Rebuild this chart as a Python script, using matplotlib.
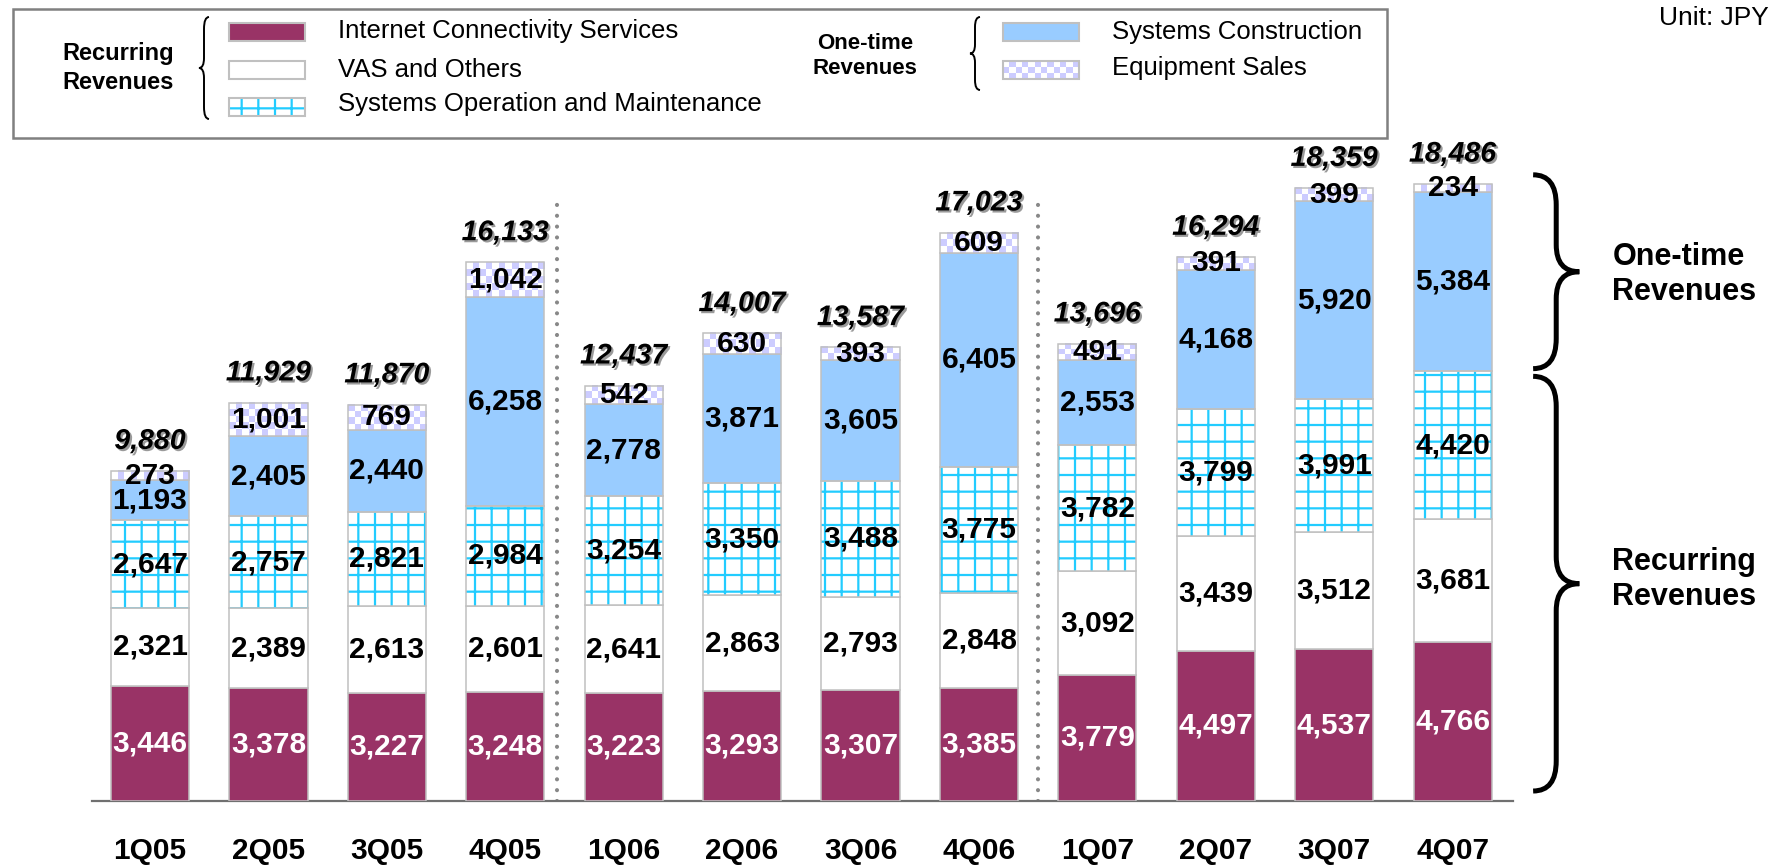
import numpy as np
import matplotlib
matplotlib.use('Agg')
import matplotlib.pyplot as plt
from matplotlib.patches import Rectangle, PathPatch
from matplotlib.path import Path
from matplotlib.colors import ListedColormap
import matplotlib.patheffects as pe

plt.rcParams['font.family'] = ['Liberation Sans', 'DejaVu Sans']
plt.rcParams['hatch.linewidth'] = 1.6

# ---------------- data ----------------
categories = ['1Q05', '2Q05', '3Q05', '4Q05', '1Q06', '2Q06', '3Q06', '4Q06',
              '1Q07', '2Q07', '3Q07', '4Q07']
internet_connectivity = [3446, 3378, 3227, 3248, 3223, 3293, 3307, 3385, 3779, 4497, 4537, 4766]
vas_others = [2321, 2389, 2613, 2601, 2641, 2863, 2793, 2848, 3092, 3439, 3512, 3681]
sys_operation = [2647, 2757, 2821, 2984, 3254, 3350, 3488, 3775, 3782, 3799, 3991, 4420]
sys_construction = [1193, 2405, 2440, 6258, 2778, 3871, 3605, 6405, 2553, 4168, 5920, 5384]
equipment_sales = [273, 1001, 769, 1042, 542, 630, 393, 609, 491, 391, 399, 234]
totals = [9880, 11929, 11870, 16133, 12437, 14007, 13587, 17023, 13696, 16294, 18359, 18486]
year_separators = [3.44, 7.5]

series_names = ['Internet Connectivity Services', 'VAS and Others',
                'Systems Operation and Maintenance', 'Systems Construction', 'Equipment Sales']

# ---------------- style ----------------
PURPLE = '#993366'
BLUE = '#99CCFF'
CYAN = '#22CCFF'
LAV = '#CCCCFF'
EDGE = '#C0C0C0'
checker_cmap = ListedColormap(['white', LAV])

W, H, DPI = 1771, 865, 100
fig = plt.figure(figsize=(W / DPI, H / DPI), dpi=DPI)
base_px = 800.7
ax = fig.add_axes([92 / W, (H - base_px) / H, 1421 / W, 667.4 / H])

x = np.arange(len(categories))
bw = 0.66
YMAX = 20000
px_per_unit_y = 667.4 / YMAX
px_per_unit_x = 1421 / 12.0
CHK = 6.5  # checker square in pixels


def checker(ax_, xc, y0, y1, w, zorder=2):
    hpx = (y1 - y0) * px_per_unit_y
    wpx = w * px_per_unit_x
    nr = max(1, int(round(hpx / CHK)))
    nc = max(1, int(round(wpx / CHK)))
    arr = (np.add.outer(np.arange(nr), np.arange(nc)) % 2)
    ax_.imshow(arr, cmap=checker_cmap, vmin=0, vmax=1, interpolation='nearest',
               extent=(xc - w / 2, xc + w / 2, y0, y1), origin='lower',
               aspect='auto', zorder=zorder)


bottom = np.zeros(len(categories))
data = [internet_connectivity, vas_others, sys_operation, sys_construction, equipment_sales]
for k, vals in enumerate(data):
    vals = np.array(vals, dtype=float)
    if k == 0:
        ax.bar(x, vals, bw, bottom=bottom, color=PURPLE, edgecolor=EDGE, linewidth=1.1, zorder=3)
    elif k == 1:
        ax.bar(x, vals, bw, bottom=bottom, color='white', edgecolor=EDGE, linewidth=1.1, zorder=3)
    elif k == 2:
        ax.bar(x, vals, bw, bottom=bottom, color='white', edgecolor=CYAN, hatch='+', linewidth=0, zorder=3)
        ax.bar(x, vals, bw, bottom=bottom, fill=False, edgecolor=EDGE, linewidth=1.1, zorder=3.5)
    elif k == 3:
        ax.bar(x, vals, bw, bottom=bottom, color=BLUE, edgecolor=EDGE, linewidth=1.1, zorder=3)
    else:
        for xi, b, v in zip(x, bottom, vals):
            checker(ax, xi, b, b + v, bw, zorder=3)
        ax.bar(x, vals, bw, bottom=bottom, fill=False, edgecolor=EDGE, linewidth=1.1, zorder=3.5)
    for xi, b, v in zip(x, bottom, vals):
        ax.text(xi, b + v / 2, f'{int(v):,}', ha='center', va='center', fontsize=21.5,
                fontweight='bold', color='white' if k == 0 else 'black', zorder=6)
    bottom = bottom + vals

for xi, t in zip(x, totals):
    ax.annotate(f'{t:,}', (xi, t), xytext=(0, 21), textcoords='offset points',
                ha='center', va='center', fontsize=20.5, fontweight='bold', fontstyle='italic',
                zorder=6, annotation_clip=False,
                path_effects=[pe.withSimplePatchShadow(offset=(1.5, -1.5),
                                                       shadow_rgbFace='#9a9a9a', alpha=1.0)])

for sx in year_separators:
    ax.axvline(sx, ymin=0, ymax=(base_px - 198) / 667.4, color='#888888', linewidth=3,
               linestyle=(0, (0.001, 2.6)), dash_capstyle='round', zorder=1)

ax.set_xlim(-0.49, 11.51)
ax.set_ylim(0, YMAX)
ax.set_xticks(x)
ax.set_xticklabels(categories, fontsize=21.5, fontweight='bold')
ax.tick_params(axis='x', length=0, pad=26)
ax.set_yticks([])
for s in ['top', 'right', 'left']:
    ax.spines[s].set_visible(False)
ax.spines['bottom'].set_color('#707070')
ax.spines['bottom'].set_linewidth(1.6)
ax.set_facecolor('none')


def brace_path(x_end, x_tip, y_a, y_b, ry_end, ry_mid, frac=0.5):
    """Curly brace with ends at x_end and tip at x_tip, spanning y_a..y_b."""
    xm = x_end + (x_tip - x_end) * frac
    ymid = (y_a + y_b) / 2
    s = 1 if y_b > y_a else -1
    verts = [(x_end, y_b),
             (xm, y_b), (xm, y_b - s * ry_end),
             (xm, ymid + s * ry_mid),
             (xm, ymid), (x_tip, ymid),
             (xm, ymid), (xm, ymid - s * ry_mid),
             (xm, y_a + s * ry_end),
             (xm, y_a), (x_end, y_a)]
    codes = [Path.MOVETO, Path.CURVE3, Path.CURVE3, Path.LINETO, Path.CURVE3, Path.CURVE3,
             Path.CURVE3, Path.CURVE3, Path.LINETO, Path.CURVE3, Path.CURVE3]
    return Path(verts, codes)


# right-hand braces tied to the last bar
recurring_last = internet_connectivity[-1] + vas_others[-1] + sys_operation[-1]
total_last = totals[-1]
bx0, bx1 = 11.68, 12.07
ry = 30 / px_per_unit_y
p1 = brace_path(bx0, bx1, recurring_last + 80, total_last + 270, ry, ry * 0.9)
p2 = brace_path(bx0, bx1, 290, recurring_last - 150, ry, ry * 0.9)
for p in (p1, p2):
    ax.add_patch(PathPatch(p, facecolor='none', edgecolor='black', linewidth=3.6,
                           clip_on=False, zorder=5, capstyle='butt'))
ax.text(12.35, (recurring_last + total_last) / 2 + 100, 'One-time\nRevenues', ha='left', va='center',
        fontsize=22, fontweight='bold', linespacing=1.2, clip_on=False)
ax.text(12.35, recurring_last / 2 + 200, 'Recurring\nRevenues', ha='left', va='center',
        fontsize=22, fontweight='bold', linespacing=1.2, clip_on=False)

# ---------------- legend box (overlay in pixel coordinates) ----------------
ov = fig.add_axes([0, 0, 1, 1], zorder=10)
ov.set_xlim(0, W)
ov.set_ylim(H, 0)
ov.axis('off')
ov.patch.set_alpha(0)

ov.add_patch(Rectangle((13.5, 9), 1387 - 13.5, 138 - 9, facecolor='white',
                       edgecolor='#808080', linewidth=1.8))
ov.text(118, 68, 'Recurring\nRevenues', ha='center', va='center', fontsize=17,
        fontweight='bold', linespacing=1.3)
ov.text(865, 56, 'One-time\nRevenues', ha='center', va='center', fontsize=16,
        fontweight='bold', linespacing=1.3)
ov.add_patch(PathPatch(brace_path(209, 199, 119, 17, 12, 10), facecolor='none',
                       edgecolor='black', linewidth=1.4))
ov.add_patch(PathPatch(brace_path(980, 970, 90, 17, 10, 9), facecolor='none',
                       edgecolor='black', linewidth=1.4))

sw_w = 76
sw_h = 18
swatches = [(229, 23, series_names[0]), (229, 61, series_names[1]), (229, 98, series_names[2]),
            (1003, 23, series_names[3]), (1003, 61, series_names[4])]
text_y = [31, 70, 104, 32, 68]
for i, (sx, sy, name) in enumerate(swatches):
    if i == 0:
        ov.add_patch(Rectangle((sx, sy), sw_w, sw_h, facecolor=PURPLE, edgecolor=EDGE, linewidth=1.5))
    elif i == 1:
        ov.add_patch(Rectangle((sx, sy), sw_w, sw_h, facecolor='white', edgecolor=EDGE, linewidth=1.5))
    elif i == 2:
        ov.add_patch(Rectangle((sx, sy), sw_w, sw_h, facecolor='white', edgecolor=CYAN,
                               hatch='+', linewidth=0))
        ov.add_patch(Rectangle((sx, sy), sw_w, sw_h, fill=False, edgecolor=EDGE, linewidth=1.5))
    elif i == 3:
        ov.add_patch(Rectangle((sx, sy), sw_w, sw_h, facecolor=BLUE, edgecolor=EDGE, linewidth=1.5))
    else:
        nr, nc = 3, 12
        arr = (np.add.outer(np.arange(nr), np.arange(nc)) % 2)
        ov.imshow(arr, cmap=checker_cmap, vmin=0, vmax=1, interpolation='nearest',
                  extent=(sx, sx + sw_w, sy + sw_h, sy), aspect='auto', zorder=2)
        ov.add_patch(Rectangle((sx, sy), sw_w, sw_h, fill=False, edgecolor=EDGE, linewidth=1.5, zorder=3))
    ov.text(sx + sw_w + 33, text_y[i], name, ha='left', va='center', fontsize=18.5)

ov.text(1769, 18, 'Unit: JPY', ha='right', va='center', fontsize=19)
ov.set_xlim(0, W)
ov.set_ylim(H, 0)

fig.savefig('out.png', dpi=DPI)
